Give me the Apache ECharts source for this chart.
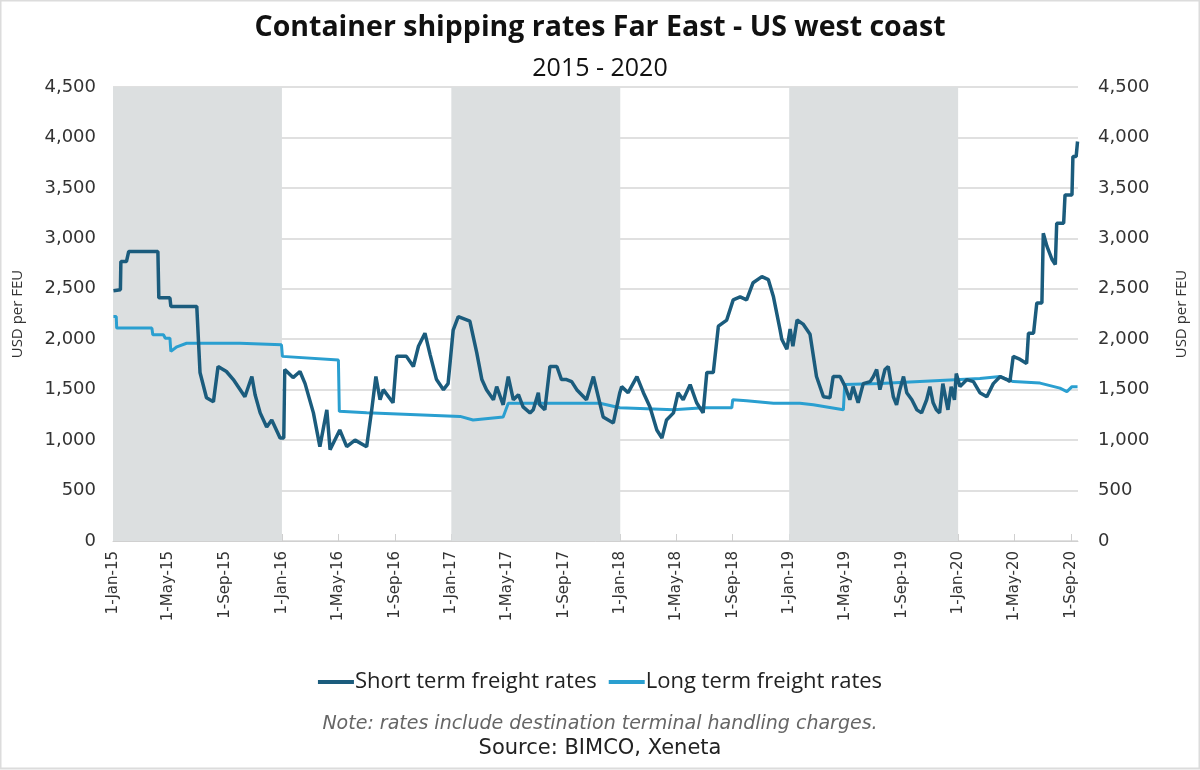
<!DOCTYPE html>
<html>
<head>
<meta charset="utf-8">
<script src="https://cdn.jsdelivr.net/npm/echarts@6/dist/echarts.min.js"></script>
<style>
html,body{margin:0;padding:0;background:#fff;}
#chart{width:1200px;height:770px;}
</style>
</head>
<body>
<div id="chart"></div>
<script>
// ---- Data ----
const shortDates = ['2015-01-02','2015-01-17','2015-01-18','2015-01-30','2015-02-04','2015-04-08','2015-04-10','2015-05-04','2015-05-06','2015-07-01','2015-07-03','2015-07-08','2015-07-22','2015-08-06','2015-08-16','2015-09-03','2015-09-18','2015-10-13','2015-10-28','2015-11-04','2015-11-15','2015-11-29','2015-12-10','2015-12-28',
'2016-01-05','2016-01-07','2016-01-25','2016-02-09','2016-02-20','2016-03-09','2016-03-23','2016-04-07','2016-04-14','2016-05-05','2016-05-20','2016-06-07','2016-07-02','2016-07-13','2016-07-22','2016-07-31','2016-08-07','2016-08-28','2016-09-05','2016-09-26','2016-10-11','2016-10-22','2016-11-05','2016-11-16','2016-11-30','2016-12-15','2016-12-25',
'2017-01-05','2017-01-16','2017-01-20','2017-02-10','2017-02-25','2017-03-08','2017-03-18','2017-04-02','2017-04-09','2017-04-23','2017-05-04','2017-05-15','2017-05-26','2017-06-05','2017-06-20','2017-06-27','2017-07-08','2017-07-11','2017-07-22','2017-08-02','2017-08-17','2017-08-27','2017-09-07','2017-09-18','2017-09-29','2017-10-20','2017-11-04','2017-11-15','2017-11-25','2017-12-17','2017-12-31',
'2018-01-04','2018-01-18','2018-02-06','2018-02-20','2018-03-06','2018-03-21','2018-04-01','2018-04-11','2018-04-26','2018-05-06','2018-05-17','2018-06-01','2018-06-15','2018-06-29','2018-07-07','2018-07-21','2018-08-01','2018-08-19','2018-09-02','2018-09-17','2018-10-01','2018-10-15','2018-11-03','2018-11-17','2018-11-28','2018-12-12','2018-12-16','2018-12-27',
'2019-01-03','2019-01-09','2019-01-18','2019-01-31','2019-02-15','2019-03-01','2019-03-16','2019-03-30','2019-04-06','2019-04-21','2019-05-02','2019-05-12','2019-05-19','2019-05-30','2019-06-10','2019-06-25','2019-07-02','2019-07-09','2019-07-16','2019-07-27','2019-08-03','2019-08-14','2019-08-21','2019-08-28','2019-09-05','2019-09-12','2019-09-23','2019-10-04','2019-10-14','2019-10-25','2019-11-01','2019-11-08','2019-11-15','2019-11-22','2019-11-29','2019-12-10','2019-12-17','2019-12-24','2019-12-28',
'2020-01-05','2020-01-20','2020-02-03','2020-02-17','2020-03-03','2020-03-17','2020-04-01','2020-04-15','2020-04-22','2020-04-29','2020-05-14','2020-05-28','2020-06-01','2020-06-12','2020-06-19','2020-06-30','2020-07-03','2020-07-11','2020-07-22','2020-07-29','2020-08-01','2020-08-16','2020-08-19','2020-09-03','2020-09-05','2020-09-12','2020-09-15'];
const shortValues = [2480,2490,2770,2770,2870,2870,2410,2410,2325,2325,2140,1670,1420,1380,1730,1680,1600,1430,1630,1450,1270,1130,1200,1020,
1020,1700,1620,1680,1560,1270,935,1300,905,1100,935,1000,935,1300,1630,1400,1500,1370,1830,1830,1730,1930,2060,1850,1600,1500,1560,
2090,2225,2210,2180,1865,1600,1500,1400,1530,1350,1630,1400,1450,1330,1270,1300,1470,1350,1300,1730,1730,1600,1600,1580,1500,1400,1630,1420,1230,1170,1470,
1530,1470,1630,1470,1330,1100,1020,1200,1270,1470,1400,1550,1370,1270,1670,1670,2130,2190,2390,2420,2390,2560,2620,2590,2420,2100,2000,1900,
2100,1930,2190,2150,2050,1630,1430,1420,1630,1630,1530,1400,1530,1370,1560,1580,1630,1700,1500,1700,1730,1430,1350,1500,1630,1470,1400,1300,1270,1400,1530,1370,1300,1270,1560,1300,1530,1400,1660,
1530,1600,1580,1470,1430,1560,1630,1600,1580,1830,1800,1760,2060,2060,2360,2360,3050,2920,2790,2740,3150,3150,3430,3430,3810,3810,3960];

const longDates = ['2015-01-02','2015-01-08','2015-01-09','2015-03-26','2015-03-28','2015-04-20','2015-04-24','2015-05-04','2015-05-06','2015-05-19','2015-06-09','2015-10-02','2015-12-31',
'2016-01-02','2016-05-02','2016-05-04','2016-07-02','2017-01-20','2017-02-17','2017-04-23','2017-05-04','2017-11-18','2017-12-31','2018-04-26','2018-06-29','2018-08-30','2018-09-01','2018-10-01','2018-11-28',
'2019-01-24','2019-02-22','2019-04-28','2019-05-01','2019-07-16','2020-01-05','2020-02-17','2020-04-01','2020-04-29','2020-06-26','2020-08-08','2020-08-23','2020-09-03','2020-09-15'];
const longValues = [2225,2225,2110,2110,2045,2045,2010,2010,1880,1925,1960,1960,1945,
1830,1795,1285,1270,1235,1200,1230,1365,1365,1320,1300,1320,1320,1400,1390,1365,
1365,1350,1300,1550,1560,1600,1610,1630,1580,1565,1515,1480,1530,1530];

const tickDates = ['2015-01-01','2015-05-01','2015-09-01','2016-01-01','2016-05-01','2016-09-01','2017-01-01','2017-05-01','2017-09-01','2018-01-01','2018-05-01','2018-09-01','2019-01-01','2019-05-01','2019-09-01','2020-01-01','2020-05-01','2020-09-01'];
const shadedYears = [['2015-01-01','2016-01-01'],['2017-01-01','2018-01-01'],['2019-01-01','2020-01-01']];
const axisStart = '2015-01-01';
const axisEnd = '2020-09-16';

const seriesNames = ['Short term freight rates','Long term freight rates'];
const titleText = 'Container shipping rates Far East - US west coast';
const subtitleText = '2015 - 2020';
const noteText = 'Note: rates include destination terminal handling charges.';
const sourceText = 'Source: BIMCO, Xeneta';
const yName = 'USD per FEU';

// ---- Helpers ----
function toTs(s){ const p = s.split('-').map(Number); return new Date(p[0], p[1]-1, p[2]).getTime(); }
const months = ['Jan','Feb','Mar','Apr','May','Jun','Jul','Aug','Sep','Oct','Nov','Dec'];
function fmtDate(v){ const d = new Date(v); return d.getDate() + '-' + months[d.getMonth()] + '-' + String(d.getFullYear()).slice(2); }
function fmtNum(v){ return String(v).replace(/\B(?=(\d{3})+(?!\d))/g, ','); }

const FONT = '"Open Sans", Lato, sans-serif';
const WIDE = '"DejaVu Sans", "Open Sans", sans-serif';
const tickTs = tickDates.map(toTs);

const chart = echarts.init(document.getElementById('chart'), null, {renderer:'canvas'});

const yAxisCommon = {
  type: 'value', min: 0, max: 4500, interval: 500,
  name: yName, nameLocation: 'middle',
  nameTextStyle: {fontFamily: FONT, fontSize: 15, color: '#333'},
  axisLine: {show: false}, axisTick: {show: false},
  axisLabel: {fontFamily: WIDE, fontSize: 18, color: '#333', formatter: fmtNum}
};

chart.setOption({
  backgroundColor: '#fff',
  animation: false,
  title: [
    {text: titleText, left: 'center', top: 8, textStyle: {fontFamily: FONT, fontSize: 28.5, fontWeight: 'bold', color: '#111'}},
    {text: subtitleText, left: 'center', top: 51, textStyle: {fontFamily: FONT, fontSize: 25, fontWeight: 'normal', color: '#111'}},
    {text: noteText, left: 'center', top: 710, textStyle: {fontFamily: WIDE, fontSize: 19, fontStyle: 'italic', fontWeight: 'normal', color: '#666'}},
    {text: sourceText, left: 'center', top: 733, textStyle: {fontFamily: WIDE, fontSize: 21, fontWeight: 'normal', color: '#222'}}
  ],
  legend: {
    data: seriesNames, left: 'center', top: 666,
    icon: 'rect', itemWidth: 36, itemHeight: 4, itemGap: 12,
    textStyle: {fontFamily: FONT, fontSize: 22, color: '#222', padding: [0, 0, 0, -4]}
  },
  grid: {left: 113, right: 122, top: 87, bottom: 229, containLabel: false},
  xAxis: {
    type: 'value',
    min: toTs(axisStart), max: toTs(axisEnd),
    axisLine: {show: true, lineStyle: {color: '#d0d0d0', width: 1}},
    axisTick: {show: true, inside: true, length: 7, lineStyle: {color: '#cfcfcf'}, customValues: tickTs},
    axisLabel: {customValues: tickTs, rotate: 90, margin: 10, fontFamily: WIDE, fontSize: 15, color: '#333', formatter: fmtDate, hideOverlap: false, showMinLabel: true, showMaxLabel: true},
    splitLine: {show: false}
  },
  yAxis: [
    Object.assign({}, yAxisCommon, {position: 'left', nameGap: 88, splitLine: {show: true, lineStyle: {color: '#d6d6d6', width: 1.5}}, axisLabel: Object.assign({}, yAxisCommon.axisLabel, {margin: 17})}),
    Object.assign({}, yAxisCommon, {position: 'right', nameGap: 96, splitLine: {show: false}, axisLabel: Object.assign({}, yAxisCommon.axisLabel, {margin: 20})})
  ],
  graphic: [
    {type: 'rect', shape: {x: 0.5, y: 0.5, width: 1199, height: 768}, style: {fill: 'none', stroke: '#dcdcdc', lineWidth: 2}, silent: true}
  ],
  series: [
    {
      name: 'bands', type: 'line', data: [], z: -1, silent: true,
      markArea: {silent: true, itemStyle: {color: '#dcdfe0'}, data: shadedYears.map(p => [{xAxis: toTs(p[0])}, {xAxis: toTs(p[1])}])}
    },
    {
      name: seriesNames[1], type: 'line', showSymbol: false, symbol: 'none',
      data: longDates.map((d, i) => [toTs(d), longValues[i]]),
      lineStyle: {color: '#2a9fd0', width: 3}, itemStyle: {color: '#2a9fd0'}, z: 3
    },
    {
      name: seriesNames[0], type: 'line', showSymbol: false, symbol: 'none',
      data: shortDates.map((d, i) => [toTs(d), shortValues[i]]),
      lineStyle: {color: '#1b5c7d', width: 3.5}, itemStyle: {color: '#1b5c7d'}, z: 4
    }
  ]
});
</script>
</body>
</html>
